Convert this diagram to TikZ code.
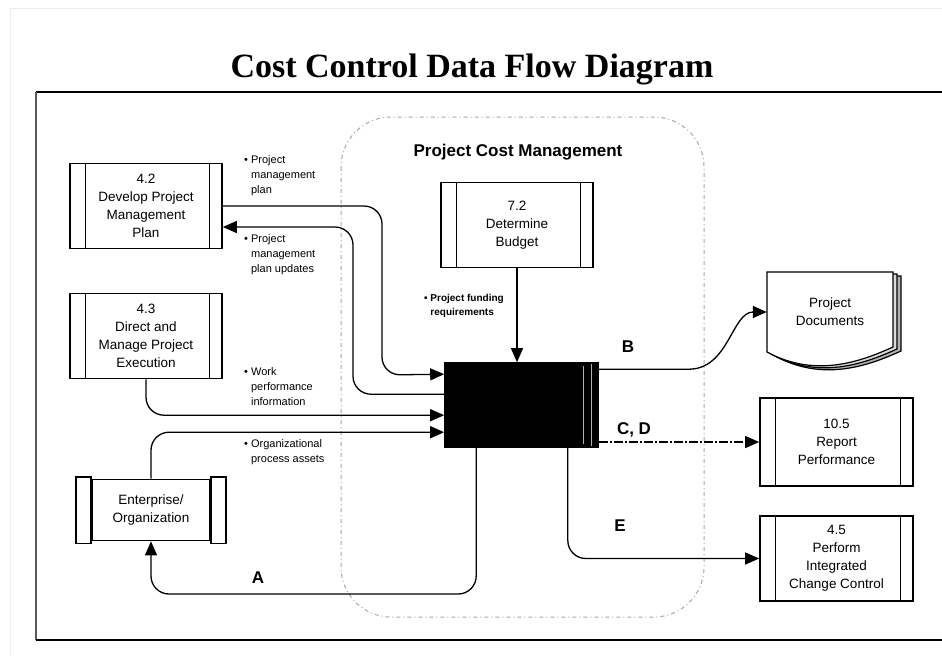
\documentclass[tikz,border=0pt]{standalone}
\usepackage{fontspec}
\setmainfont{Liberation Sans}
\newfontfamily\titlefont{Liberation Serif}
\usepackage{tikz}
\usetikzlibrary{calc,arrows.meta,backgrounds}
\newcommand{\flowcolor}{black}
\newcommand{\regioncolor}{gray!70}
\newcommand{\boxline}{1.6pt}
\newcommand{\flowline}{1.3pt}
\newcommand{\rad}{18pt}
\newcommand{\bul}{\textbullet\ }
\newcommand{\nobul}{\phantom{\textbullet\ }}

\tikzset{
  procbox/.style={draw, line width=\boxline, fill=white, minimum width=152pt, minimum height=85pt,
    inner sep=2pt, align=center, font=\fontsize{13.5}{18}\selectfont,
    path picture={
      \draw[line width=1pt] ([xshift=15pt]path picture bounding box.north west) -- ([xshift=15pt]path picture bounding box.south west);
      \draw[line width=1pt] ([xshift=-13pt]path picture bounding box.north east) -- ([xshift=-13pt]path picture bounding box.south east);}},
  flow/.style={draw=\flowcolor, line width=\flowline, -{Triangle[length=14pt,width=12pt]}},
  bullets/.style={anchor=north west, inner sep=0pt, align=left, font=\fontsize{11}{15}\selectfont},
  letter/.style={font=\bfseries\fontsize{17}{17}\selectfont},
}

\begin{document}
\begin{tikzpicture}[x=1pt,y=-1pt]
\useasboundingbox (0,0) rectangle (942,656);
\draw[gray!15] (10,656) -- (10,8) -- (942,8);
%title
\node[anchor=base, font=\titlefont\bfseries\fontsize{34}{34}\selectfont] (title) at (472,77) {Cost Control Data Flow Diagram};
%frame
\draw[line width=2pt] (942,92) -- (36,92);
\draw[line width=1.5pt, gray!70!black] (36,92) -- (36,640);
\draw[line width=2pt] (36,640) -- (942,640);
%region
\draw[\regioncolor, line width=1pt, dash pattern=on 4pt off 3pt on 1pt off 3pt, rounded corners=50pt] (341,117) rectangle (704,617);
\node[font=\bfseries\fontsize{17}{17}\selectfont] (pcm) at (518,152) {Project Cost Management};
%processes
\node[procbox] (b42) at (146,206) {4.2\\Develop Project\\Management\\Plan};
\node[procbox] (b43) at (146,336) {4.3\\Direct and\\Manage Project\\Execution};
\node[procbox] (b72) at (517,225) {7.2\\Determine\\Budget};
\node[procbox, minimum width=153pt, minimum height=88pt] (b105) at (836.5,442) {10.5\\Report\\Performance};
\node[procbox, minimum width=153pt] (b45) at (836.5,558.5) {4.5\\Perform\\Integrated\\Change Control};
%control costs
\node[draw, line width=\boxline, fill=black, minimum width=153pt, minimum height=84pt] (cb) at (521.5,405) {};
\draw[gray!60, line width=1pt] ($(cb.north east)+(-15,4)$) -- ($(cb.south east)+(-15,-4)$);
\draw[gray!60, line width=1pt] ($(cb.north east)+(-7,2)$) -- ($(cb.south east)+(-7,-2)$);
%enterprise
\node[draw, line width=\boxline, minimum width=118pt, minimum height=61pt, align=center,
  font=\fontsize{13.5}{18}\selectfont] (ent) at (151,510) {Enterprise/\\Organization};
\draw[line width=\boxline, fill=white] ($(ent.north west)+(-15,-2)$) rectangle ($(ent.south west)+(0,2)$);
\draw[line width=\boxline, fill=white] ($(ent.north east)+(0,-2)$) rectangle ($(ent.south east)+(15,2)$);
%documents
\node[minimum width=126pt, minimum height=80pt, align=center, font=\fontsize{13.5}{18}\selectfont] (doc) at (830,312) {Project\\Documents};
\begin{scope}[on background layer]
\foreach \s/\c in {8/gray!60,4/gray!30,0/white}
  \draw[line width=1.2pt, fill=\c, shift={(\s,\s/2)}] (767,272) -- (893,272) -- (893,347)
    .. controls (860,362) and (815,378) .. (767,352) -- cycle;
\end{scope}
%inputs
\draw[flow, rounded corners=\rad] (b42.east) -| (382,375) -- ($(cb.north west)+(0,12)$);
\draw[flow, rounded corners=\rad] ($(cb.north west)+(0,32)$) -| (353,227) -- (b42.east |- 0,227);
\draw[flow, rounded corners=\rad] (b43.south) |- ($(cb.north west)+(0,53)$);
\draw[flow, rounded corners=\rad] (ent.north) |- ($(cb.north west)+(0,70)$);
\draw[flow] (b72.south) -- (b72.south |- cb.north);
%outputs
\draw[flow] ($(cb.north east)+(0,7)$) -- ++(90,0) .. controls +(40,0) and +(-35,0) .. (doc.west);
\draw[flow, dash pattern=on 9pt off 2pt on 2pt off 2pt] (cb.south east |- b105.west) -- (b105.west);
\draw[flow, rounded corners=\rad] ($(cb.south east)+(-31,0)$) |- (b45.west);
\draw[flow, rounded corners=\rad] ($(cb.south west)+(32,0)$) |- (ent.south |- 0,594) -- (ent.south);
%labels
\node[bullets] (lplan) at (244,155) {\bul Project\\\nobul management\\\nobul plan};
\node[bullets] (lupd) at (244,234) {\bul Project\\\nobul management\\\nobul plan updates};
\node[bullets] (lwork) at (244,367) {\bul Work\\\nobul performance\\\nobul information};
\node[bullets] (lorg) at (244,439) {\bul Organizational\\\nobul process assets};
\node[bullets, font=\bfseries\fontsize{10}{14}\selectfont] (lfund) at (424,294) {\bul Project funding\\\nobul requirements};
\node[letter] (lb) at (628,347) {B};
\node[letter] (lcd) at (634,430) {C, D};
\node[letter] (le) at (620,526) {E};
\node[letter] (la) at (258,578) {A};
\end{tikzpicture}
\end{document}
